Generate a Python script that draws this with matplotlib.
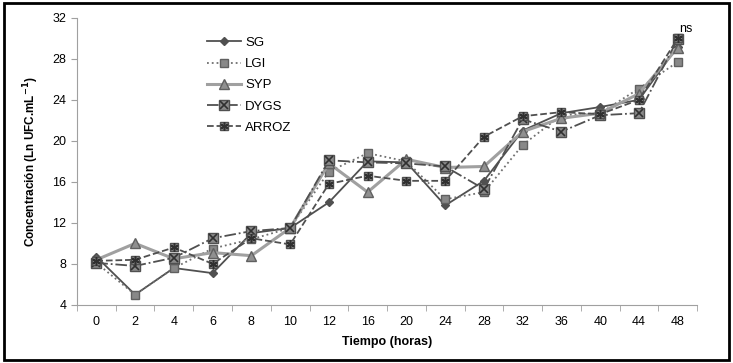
import matplotlib.pyplot as plt
import matplotlib.patches as mpatches
import numpy as np

plt.rcParams['font.family'] = ['Liberation Sans', 'DejaVu Sans']

horas = ['0', '2', '4', '6', '8', '10', '12', '16', '20', '24', '28', '32', '36', '40', '44', '48']

sg = [8.7, 5.0, 7.6, 7.1, 11.0, 11.5, 14.0, 18.0, 17.9, 13.7, 16.1, 21.0, 22.7, 23.3, 24.0, 29.2]
lgi = [8.1, 5.0, 7.6, 9.5, 10.4, 11.5, 17.0, 18.8, 18.0, 14.3, 15.0, 19.6, 22.5, 22.7, 25.1, 27.7]
syp = [8.4, 10.0, 8.5, 9.1, 8.8, 11.5, 17.8, 15.0, 18.2, 17.4, 17.5, 20.9, 22.2, 22.7, 24.6, 29.1]
dygs = [8.1, 7.8, 8.6, 10.5, 11.2, 11.5, 18.1, 17.9, 17.8, 17.5, 15.3, 22.1, 20.9, 22.5, 22.7, 29.9]
arroz = [8.3, 8.4, 9.6, 8.0, 10.5, 9.9, 15.8, 16.6, 16.1, 16.1, 20.4, 22.4, 22.8, 22.6, 24.0, 30.0]

x = np.arange(len(horas))

fig = plt.figure(figsize=(7.33, 3.63), dpi=100)
ax = fig.add_axes([0.105, 0.160, 0.846, 0.791])

dark = '#505050'
h1, = ax.plot(x, sg, color=dark, lw=1.3, marker='D', ms=4, mfc=dark, mec=dark)
h2, = ax.plot(x, lgi, color='#707070', lw=1.3, ls=':', marker='s', ms=6, mfc='#888888', mec='#606060')
h3, = ax.plot(x, syp, color='#a0a0a0', lw=2.2, marker='^', ms=7, mfc='#909090', mec='#606060')
h4, = ax.plot(x, dygs, color=dark, lw=1.3, ls='-.', marker='s', ms=6.5, mfc='#8a8a8a', mec='#505050')
h4b, = ax.plot(x, dygs, ls='none', marker='x', ms=6, mec='#303030', mew=1.2)
h5, = ax.plot(x, arroz, color=dark, lw=1.3, ls='--', marker='s', ms=6, mfc='#8a8a8a', mec='#505050')
h5b, = ax.plot(x, arroz, ls='none', marker=(6, 2, 0), ms=6, mec='#303030', mew=1.1)

ax.set_xlim(-0.5, len(horas) - 0.5)
ax.set_ylim(4, 32)
ax.set_yticks(np.arange(4, 33, 4))
ax.set_xticks(x)
ax.set_xticklabels(horas)
ax.set_xticks(np.arange(-0.5, len(horas), 1), minor=True)
ax.tick_params(axis='x', which='major', length=0, labelsize=9, pad=8)
ax.tick_params(axis='x', which='minor', length=4, color='#a0a0a0')
ax.tick_params(axis='y', length=4, color='#a0a0a0', labelsize=9)

for s in ['top', 'right']:
    ax.spines[s].set_visible(False)
for s in ['left', 'bottom']:
    ax.spines[s].set_color('#a0a0a0')

ax.set_xlabel('Tiempo (horas)', fontsize=9, fontweight='bold', labelpad=6)
ax.set_ylabel('Concentración (Ln UFC.mL$^{\\mathbf{-1}}$)', fontsize=8.5, fontweight='bold', labelpad=8)

ax.text(x[-1] + 0.05, 30.6, 'ns', fontsize=9)

ax.legend([h1, h2, h3, (h4, h4b), (h5, h5b)], ['SG', 'LGI', 'SYP', 'DYGS', 'ARROZ'],
          loc='upper left', bbox_to_anchor=(0.19, 0.975), frameon=False, fontsize=9.5,
          handlelength=2.6, labelspacing=0.68, handletextpad=0.3)

fig.patches.append(mpatches.Rectangle((0.005, 0.008), 0.99, 0.985, transform=fig.transFigure,
                                      fill=False, ec='black', lw=2))

fig.savefig('out.png', dpi=100)
